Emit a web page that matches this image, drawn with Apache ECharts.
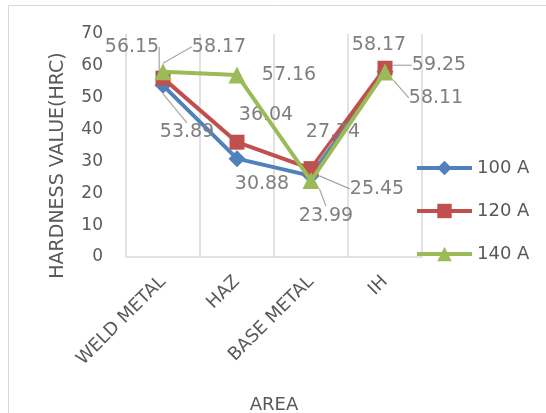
<!DOCTYPE html>
<html lang="en">
<head>
    <meta charset="UTF-8">
    <title>Hardness value by area</title>
    <script src="https://cdn.jsdelivr.net/npm/echarts@6.0.0/dist/echarts.min.js"></script>
    <style>
        html, body { margin: 0; padding: 0; background: #fff; }
        #main { width: 546px; height: 413px; }
    </style>
</head>
<body>
    <div id="main"></div>
    <script type="text/javascript">
        // data
        var categories = ['WELD METAL', 'HAZ', 'BASE METAL', 'IH'];
        var hv100 = [53.89, 30.88, 25.45, 58.17];
        var hv120 = [56.15, 36.04, 27.74, 59.25];
        var hv140 = [58.17, 57.16, 23.99, 58.11];

        // where each data label sits relative to its point (like the Excel original)
        var offsets = [
            [[24, 47], [25, 25], [66, 13], [-6, -27]],
            [[-31, -31], [29, -27], [22, -37], [54, -3]],
            [[56, -25], [52, 0], [15, 35], [51, 26]]
        ];
        var leaders = [
            [true, false, true, false],
            [true, false, true, true],
            [true, false, true, true]
        ];

        var font = 'DejaVu Sans';
        var chart = echarts.init(document.getElementById('main'));

        function makeSeries(name, values, idx, color, symbol, size) {
            return {
                name: name,
                type: 'line',
                data: values.map(function (v, i) {
                    return { value: v, labelLine: { show: leaders[idx][i] } };
                }),
                symbol: symbol,
                symbolSize: size,
                lineStyle: { color: color, width: 4 },
                itemStyle: { color: color },
                label: {
                    show: true,
                    position: 'inside',
                    color: '#7f7f7f',
                    fontFamily: font,
                    fontSize: 19
                },
                labelLine: {
                    lineStyle: { color: '#a6a6a6', width: 1.2 }
                },
                labelLayout: function (p) {
                    var o = offsets[idx][p.dataIndex];
                    return { dx: o[0], dy: o[1] };
                },
                z: 2 + idx
            };
        }

        var option = {
            animation: false,
            graphic: [{
                type: 'rect',
                shape: { x: 8.5, y: 5.5, width: 560, height: 430 },
                style: { fill: 'none', stroke: '#d9d9d9', lineWidth: 1 },
                silent: true
            }],
            grid: { left: 126, right: 124, top: 34, bottom: 156, outerBoundsMode: 'none' },
            legend: {
                orient: 'vertical',
                left: 410,
                top: 154,
                itemWidth: 55,
                itemHeight: 18,
                itemGap: 25,
                lineStyle: { width: 4 },
                textStyle: { color: '#595959', fontFamily: font, fontSize: 18 },
                data: ['100 A', '120 A', '140 A']
            },
            xAxis: {
                type: 'category',
                data: categories,
                name: 'AREA',
                nameLocation: 'middle',
                nameGap: 139,
                nameTextStyle: { color: '#595959', fontFamily: font, fontSize: 18 },
                axisLine: { lineStyle: { color: '#d9d9d9', width: 1.5 } },
                axisTick: { show: false },
                axisLabel: {
                    rotate: 45,
                    margin: 22,
                    color: '#595959',
                    fontFamily: font,
                    fontSize: 18
                },
                splitLine: { show: true, lineStyle: { color: '#d9d9d9', width: 1.5 } }
            },
            yAxis: {
                type: 'value',
                min: 0,
                max: 70,
                interval: 10,
                name: 'HARDNESS VALUE(HRC)',
                nameLocation: 'middle',
                nameGap: 58,
                nameTextStyle: { color: '#595959', fontFamily: font, fontSize: 19, padding: [0, 40, 0, 0] },
                axisLine: { show: false },
                axisTick: { show: false },
                axisLabel: { margin: 23, color: '#595959', fontFamily: font, fontSize: 17 },
                splitLine: { show: false }
            },
            series: [
                makeSeries('100 A', hv100, 0, '#4f81bd', 'diamond', 17),
                makeSeries('120 A', hv120, 1, '#c0504d', 'rect', 15),
                makeSeries('140 A', hv140, 2, '#9bbb59', 'triangle', 17)
            ]
        };

        chart.setOption(option);
    </script>
</body>
</html>
